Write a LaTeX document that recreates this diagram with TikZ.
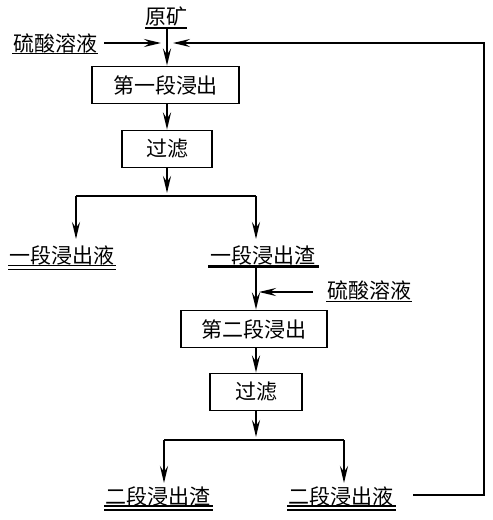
\documentclass[tikz,border=0pt]{standalone}
\usepackage{fontspec}
\setmainfont{Noto Sans CJK SC}
\usetikzlibrary{arrows.meta}
\begin{document}
\begin{tikzpicture}[x=1pt,y=-1pt,
  every node/.style={font=\fontsize{21}{24}\selectfont, inner sep=0pt},
  procbox/.style={draw, line width=1.8pt, minimum height=37pt},
  flow/.style={line width=2.4pt, -{Stealth[length=17pt,width=8pt,inset=6pt]}},
  pipe/.style={line width=2.4pt},
  thinline/.style={line width=1pt},
  thickbar/.style={line width=2.6pt},
  dbl/.style={line width=1.1pt}]
\useasboundingbox (0,0) rectangle (493,520);

% --- first stage ---
\node (ore) at (166,16) {原矿};
\draw[thickbar] (145,28) -- (187,28);
\coordinate (orebar) at (167,28);

\node (acid1) at (55,43) {硫酸溶液};
\draw[thinline] (12,53) -- (98,53);
\coordinate (acid1end) at (104,43);
\coordinate (jL) at (161,43);
\coordinate (jR) at (173,43);

\node[procbox, minimum width=147pt] (b1) at (165.5,85) {第一段浸出};
\node[procbox, minimum width=90pt] (b2) at (167,149) {过滤};

\draw[flow] (acid1end) -- (jL);
\draw[flow] (orebar) -- (orebar |- b1.north);
\draw[flow] (b1.south -| orebar) -- (b2.north -| orebar);

\coordinate (s1) at (167,196);
\coordinate (s1L) at (76,196);
\coordinate (s1R) at (256,196);
\coordinate (t1L) at (76,239);
\coordinate (t1R) at (256,239);
\draw[flow] (b2.south -| s1) -- ([yshift=3pt]s1);
\draw[pipe] (s1L) -- (s1R);
\draw[flow] (s1L) -- (t1L);
\draw[flow] (s1R) -- (t1R);

\node (liq1) at (62,255) {一段浸出液};
\draw[dbl] (8,265.5) -- (116,265.5);
\draw[dbl] (8,269.5) -- (116,269.5);

\node (res1) at (263,255) {一段浸出渣};
\draw[thickbar] (208,266.5) -- (319,266.5);
\coordinate (res1bar) at (256,266);

% --- second stage ---
\node (acid2) at (369,290) {硫酸溶液};
\draw[thinline] (326,301) -- (412,301);
\coordinate (acid2end) at (313,292);
\coordinate (j2) at (259,292);

\node[procbox, minimum width=146pt] (b3) at (254,329) {第二段浸出};
\node[procbox, minimum width=92pt] (b4) at (256,392) {过滤};

\draw[flow] (acid2end) -- (j2);
\draw[flow] (res1bar) -- (res1bar |- b3.north);
\draw[flow] (b3.south -| res1bar) -- (b4.north -| res1bar);

\coordinate (s2) at (256,440);
\coordinate (s2L) at (164,440);
\coordinate (s2R) at (344,440);
\coordinate (t2L) at (164,483);
\coordinate (t2R) at (344,483);
\draw[flow] (b4.south -| s2) -- ([yshift=3pt]s2);
\draw[pipe] (s2L) -- (s2R);
\draw[flow] (s2L) -- (t2L);
\draw[flow] (s2R) -- (t2R);

\node (res2) at (158,496) {二段浸出渣};
\draw[dbl] (104,506) -- (213,506);
\draw[dbl] (104,510) -- (213,510);

\node (liq2) at (341,496) {二段浸出液};
\draw[dbl] (287,506) -- (396,506);
\draw[dbl] (287,510) -- (396,510);

% --- recycle line ---
\coordinate (fb0) at (413,495);
\coordinate (fb1) at (484,495);
\coordinate (fb2) at (484,43);
\draw[flow, line width=2pt] (fb0) -- (fb1) -- (fb2) -- (jR);
\end{tikzpicture}
\end{document}
